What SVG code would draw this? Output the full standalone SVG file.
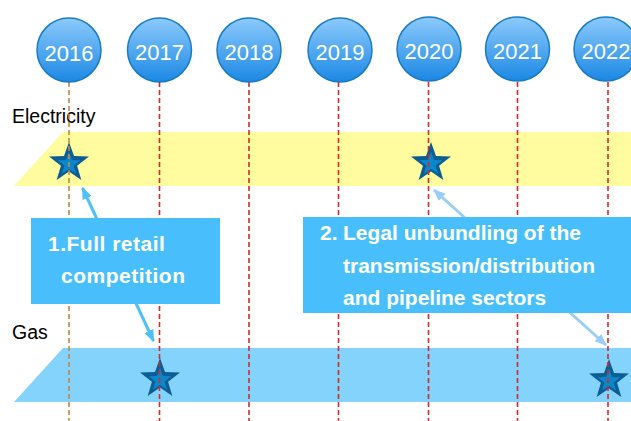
<svg xmlns="http://www.w3.org/2000/svg" xmlns:xlink="http://www.w3.org/1999/xlink" width="631" height="421" viewBox="0 0 631 421">
  <style>
    .year-ball { fill: url(#ballFill); stroke: #1a7cc0; stroke-width: 1.5; }
    .year-text { font-family: "Liberation Sans", Arial, sans-serif; font-size: 22px; fill: #ffffff; text-anchor: middle; }
    .row-label { font-family: "Liberation Sans", Arial, sans-serif; font-size: 19.5px; fill: #000000; }
    .guide { fill: none; stroke: #d42a2a; stroke-width: 1.6; stroke-dasharray: 5 3; }
    .guide.first { stroke: #c8883c; }
    .callout { fill: #48bffc; }
    .callout-text { font-family: "Liberation Sans", Arial, sans-serif; font-size: 21px; font-weight: bold; fill: #ffffff; }
    .callout-text.wide { letter-spacing: 0.5px; }
    .star-outer { fill: #0b5d93; }
    .star-inner { fill: #0a86ca; }
  </style>
  <defs>
    <linearGradient id="ballFill" x1="0" y1="0" x2="0" y2="1">
      <stop offset="0" stop-color="#8ccafc"/>
      <stop offset="1" stop-color="#1b88e4"/>
    </linearGradient>
    <path id="starShape" d="M0,-21 L5,-6.88 L19.97,-6.49 L8.08,2.63 L12.34,16.99 L0,8.5 L-12.34,16.99 L-8.08,2.63 L-19.97,-6.49 L-5,-6.88 Z"/>
    <g id="star">
      <use xlink:href="#starShape" class="star-outer"/>
      <use xlink:href="#starShape" class="star-inner" transform="translate(0,1) scale(0.58)"/>
    </g>
    <marker id="headBright" viewBox="0 0 12 10" refX="11" refY="5" markerWidth="12" markerHeight="10" markerUnits="userSpaceOnUse" orient="auto-start-reverse">
      <path d="M0,0 L12,5 L0,10 Z" fill="#4fc0f8"/>
    </marker>
    <marker id="headPale" viewBox="0 0 12 10" refX="11" refY="5" markerWidth="12" markerHeight="10" markerUnits="userSpaceOnUse" orient="auto-start-reverse">
      <path d="M0,0 L12,5 L0,10 Z" fill="#9acdf8"/>
    </marker>
  </defs>

  <rect width="631" height="421" fill="#ffffff"/>

  <!-- sector bands -->
  <g id="band-electricity">
    <polygon points="63,132 631,132 631,186 14,186" fill="#fefc9e"/>
    <text class="row-label" x="12" y="123">Electricity</text>
  </g>
  <g id="band-gas">
    <polygon points="63,348 631,348 631,402 14,402" fill="#84d3fc"/>
    <text class="row-label" x="12" y="339">Gas</text>
  </g>

  <!-- milestone stars -->
  <g id="star-electricity-2016"><use xlink:href="#star" transform="translate(69,163)"/></g>
  <g id="star-electricity-2020"><use xlink:href="#star" transform="translate(431,163)"/></g>
  <g id="star-gas-2017"><use xlink:href="#star" transform="translate(160,379)"/></g>
  <g id="star-gas-2022"><use xlink:href="#star" transform="translate(609,380)"/></g>

  <!-- year guide lines -->
  <g id="guides">
    <line class="guide first" x1="69" y1="82" x2="69" y2="421"/>
    <line class="guide" x1="159.5" y1="82" x2="159.5" y2="421"/>
    <line class="guide" x1="249" y1="82" x2="249" y2="421"/>
    <line class="guide" x1="338.5" y1="82" x2="338.5" y2="421"/>
    <line class="guide" x1="428.5" y1="82" x2="428.5" y2="421"/>
    <line class="guide" x1="517.5" y1="82" x2="517.5" y2="421"/>
    <line class="guide" x1="608" y1="82" x2="608" y2="421"/>
  </g>

  <!-- connectors -->
  <g id="connectors">
    <line x1="82.5" y1="188" x2="153.5" y2="341" stroke="#4fc0f8" stroke-width="3" marker-start="url(#headBright)" marker-end="url(#headBright)"/>
    <line x1="434" y1="190" x2="606" y2="345" stroke="#9acdf8" stroke-width="3" marker-start="url(#headPale)" marker-end="url(#headPale)"/>
  </g>

  <!-- callouts -->
  <g id="callout-retail">
    <rect class="callout" x="31" y="218" width="189" height="86"/>
    <text class="callout-text wide" x="48" y="251">1.Full retail</text>
    <text class="callout-text wide" x="61" y="283">competition</text>
  </g>
  <g id="callout-unbundling">
    <rect class="callout" x="303" y="217" width="328" height="96"/>
    <text class="callout-text" x="320" y="240">2.</text>
    <text class="callout-text" x="343" y="240">Legal unbundling of the</text>
    <text class="callout-text" x="343" y="273">transmission/distribution</text>
    <text class="callout-text" x="343" y="305">and pipeline sectors</text>
  </g>

  <!-- year markers -->
  <g id="year-2016"><circle class="year-ball" cx="69" cy="50" r="32"/><text class="year-text" x="69" y="61">2016</text></g>
  <g id="year-2017"><circle class="year-ball" cx="159.5" cy="50" r="32"/><text class="year-text" x="159.5" y="60">2017</text></g>
  <g id="year-2018"><circle class="year-ball" cx="249" cy="50" r="32"/><text class="year-text" x="249" y="60">2018</text></g>
  <g id="year-2019"><circle class="year-ball" cx="340" cy="50" r="32"/><text class="year-text" x="340" y="60">2019</text></g>
  <g id="year-2020"><circle class="year-ball" cx="429" cy="49" r="32"/><text class="year-text" x="429" y="59">2020</text></g>
  <g id="year-2021"><circle class="year-ball" cx="517.5" cy="49" r="32"/><text class="year-text" x="517.5" y="59">2021</text></g>
  <g id="year-2022"><circle class="year-ball" cx="606" cy="49" r="32"/><text class="year-text" x="606" y="59">2022</text></g>
</svg>
